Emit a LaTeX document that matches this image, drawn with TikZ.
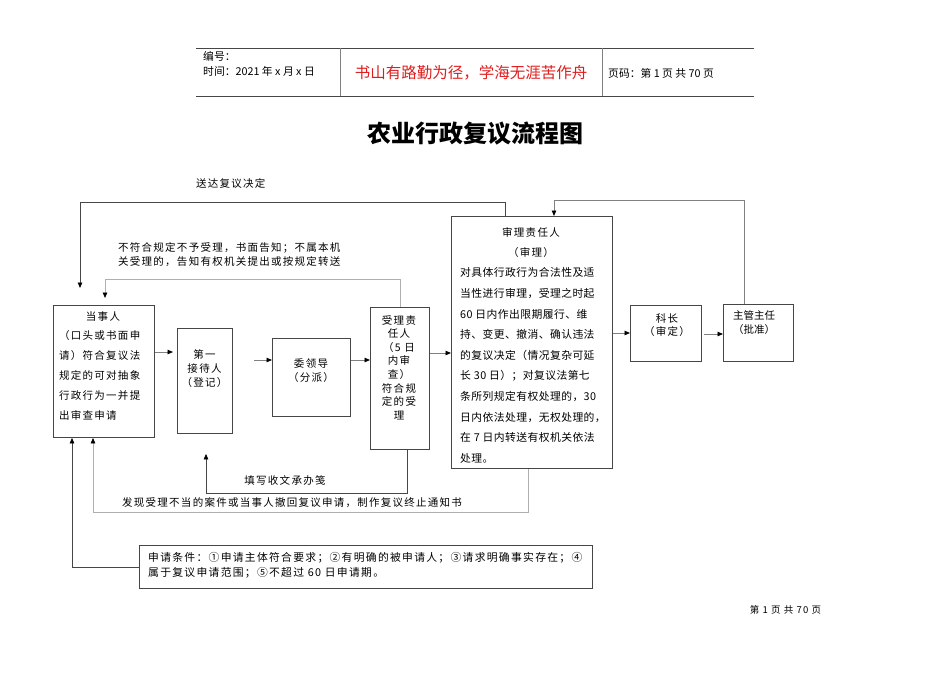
\documentclass[tikz,border=0pt]{standalone}
\usepackage{fontspec}
\setmainfont{Noto Sans CJK SC}
\newfontfamily\spaced{Noto Sans CJK SC}[LetterSpace=12]
\newfontfamily\snug{Noto Sans CJK SC}[LetterSpace=4]
\usetikzlibrary{arrows.meta,positioning,calc}
\definecolor{BoxLine}{RGB}{70,70,70}
\definecolor{LinkGray}{RGB}{128,128,128}
\definecolor{PaleGray}{RGB}{175,175,175}
\definecolor{MottoRed}{RGB}{222,30,30}

\begin{document}
\begin{tikzpicture}[x=1pt, y=-1pt,
    box/.style={draw=BoxLine, line width=0.9pt, inner sep=0pt, anchor=north west},
    txt/.style={inner sep=0pt, align=center, font=\spaced\fontsize{10.5}{14}\selectfont},
    note/.style={inner sep=0pt, align=left, font=\spaced\fontsize{10.5}{14}\selectfont},
    arr/.style={-{Triangle[length=5.5pt,width=4.5pt,color=black]}, line width=0.8pt, draw=LinkGray},
    darr/.style={arr, draw=BoxLine},
    parr/.style={arr, draw=PaleGray}
  ]
    \fill[white] (0,0) rectangle (950,672);
    \useasboundingbox (0,0) rectangle (950,672);

    % page header
    \draw[BoxLine, line width=0.8pt] (196,48) -- (754,48) (196,96) -- (754,96);
    \draw[LinkGray, line width=0.8pt] (340,48) -- (340,96) (602,48) -- (602,96);
    \node[anchor=west, inner sep=0pt, align=left, font=\fontsize{10.8}{15}\selectfont] (num) at (203,63.5) {编号：\\时间：2021 年 x 月 x 日};
    \node[inner sep=0pt, text=MottoRed, font=\fontsize{15.5}{18}\selectfont] (motto) at (471,73) {书山有路勤为径，学海无涯苦作舟};
    \node[anchor=west, inner sep=0pt, font=\fontsize{10.8}{12}\selectfont] (pg) at (608,73) {页码：第 1 页 共 70 页};
    \node[inner sep=0pt, font=\bfseries\fontsize{24}{28}\selectfont] (title) at (475,134) {农业行政复议流程图};

    % boxes
    \node[box, minimum width=101pt, minimum height=132pt] (dsr) at (53,305) {};
    \node[box, minimum width=55pt, minimum height=105pt] (jdr) at (177,328) {};
    \node[box, minimum width=78pt, minimum height=78pt] (wld) at (272,338) {};
    \node[box, minimum width=59pt, minimum height=142pt] (slr) at (370,307) {};
    \node[box, minimum width=161pt, minimum height=252pt] (shr) at (451,216) {};
    \node[box, minimum width=71pt, minimum height=56pt] (kz) at (630,305) {};
    \node[box, minimum width=70pt, minimum height=57pt] (zr) at (723,304) {};
    \node[box, minimum width=453pt, minimum height=43pt] (tj) at (139,545) {};

    % box texts
    \node[txt] (dsr-t) at (103,317) {当事人};
    \node[txt, align=left, anchor=west, font=\spaced\fontsize{10.5}{20}\selectfont] (dsr-b) at (59,375.5) {（口头或书面申\\请）符合复议法\\规定的可对抽象\\行政行为一并提\\出审查申请};
    \node[txt] (jdr-t) at (204.5,368.5) {第一\\接待人\\（登记）};
    \node[txt] (wld-t) at (311,371) {委领导\\（分派）};
    \node[txt, font=\spaced\fontsize{10.5}{13.6}\selectfont] (slr-t) at (399,367.5) {受理责\\任人\\（5 日\\内审\\查）\\符合规\\定的受\\理};
    \node[txt, font=\spaced\fontsize{10.5}{20}\selectfont] (shr-t) at (531,243) {审理责任人\\（审理）};
    \node[txt, align=left, anchor=west, font=\snug\fontsize{10.8}{20.6}\selectfont] (shr-b) at (460,365.5) {对具体行政行为合法性及适\\当性进行审理，受理之时起\\60 日内作出限期履行、维\\持、变更、撤消、确认违法\\的复议决定（情况复杂可延\\长 30 日）；对复议法第七\\条所列规定有权处理的，30\\日内依法处理，无权处理的，\\在 7 日内转送有权机关依法\\处理。};
    \node[txt, font=\spaced\fontsize{10.5}{13}\selectfont] (kz-t) at (667,325) {科长\\（审定）};
    \node[txt, font=\fontsize{10.5}{14}\selectfont] (zr-t) at (754,323) {主管主任\\（批准）};
    \node[note, anchor=west, font=\spaced\fontsize{10.8}{15}\selectfont] (tj-t) at (148,565) {申请条件：①申请主体符合要求；②有明确的被申请人；③请求明确事实存在；④\\属于复议申请范围；⑤不超过 60 日申请期。};

    % connector labels
    \node[note, anchor=west] (send) at (196,184) {送达复议决定};
    \node[note, anchor=west] (reject) at (118,255) {不符合规定不予受理，书面告知；不属本机\\关受理的，告知有权机关提出或按规定转送};
    \node[note] (fill) at (285,480) {填写收文承办笺};
    \node[note, anchor=west] (stop) at (122,503) {发现受理不当的案件或当事人撤回复议申请，制作复议终止通知书};
    \node[inner sep=0pt, font=\spaced\fontsize{9.5}{11}\selectfont] (foot) at (785.5,610) {第 1 页 共 70 页};

    % connectors
    \draw[arr, shorten >=4pt] ([yshift=-47pt]dsr.north east) -- ([yshift=-24pt]jdr.north west);
    \draw[arr, shorten <=21pt] ([yshift=-32pt]jdr.north east) -- ([yshift=-22pt]wld.north west);
    \draw[arr] ([yshift=-22pt]wld.north east) -- ([yshift=-53pt]slr.north west);
    \draw[arr] ([yshift=-46pt]slr.north east) -- ([yshift=-137pt]shr.north west);
    \draw[arr] ([yshift=-117pt]shr.north east) -- ([yshift=-28pt]kz.north west);
    \draw[arr, shorten <=2pt] ([yshift=-29pt]kz.north east) -- ([yshift=-30pt]zr.north west);
    \draw[arr] ([xshift=21pt]zr.north west) -- ++(0,-104) -| ([xshift=103pt]shr.north west);
    \draw[darr, shorten >=17pt] ([xshift=54pt]shr.north west) -- ++(0,-14) -| ([xshift=27pt]dsr.north west);
    \draw[parr, shorten >=7pt] (slr.north) -- ++(0,-28) -| ([xshift=52pt]dsr.north west);
    \draw[darr, shorten >=20pt] ([xshift=37pt]slr.south west) -- ++(0,43) -| ([xshift=29pt]jdr.south west);
    \draw[parr] ([xshift=77pt]shr.south west) -- ++(0,43) -| ([xshift=40pt]dsr.south west);
    \draw[darr] (tj.west) -| ([xshift=19pt]dsr.south west);
  \end{tikzpicture}
\end{document}
